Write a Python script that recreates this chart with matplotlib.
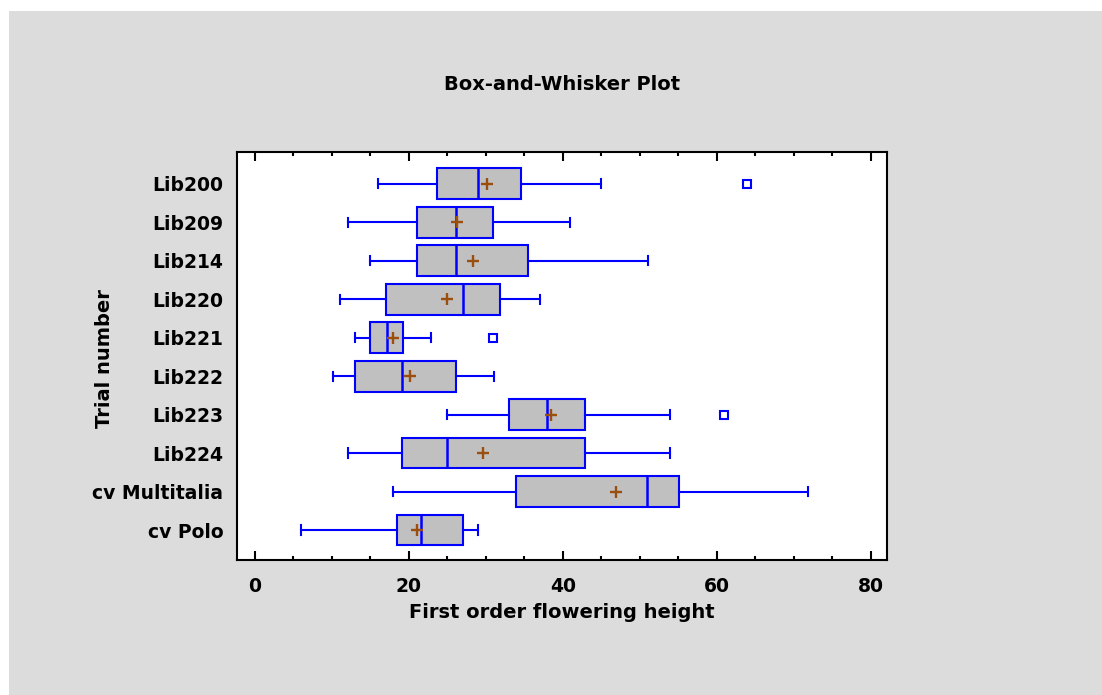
import matplotlib
matplotlib.use("Agg")
import matplotlib.pyplot as plt
from matplotlib.patches import Rectangle
from matplotlib.ticker import MultipleLocator

# values (first order flowering height)
trials = ["Lib200", "Lib209", "Lib214", "Lib220", "Lib221",
          "Lib222", "Lib223", "Lib224", "cv Multitalia", "cv Polo"]
whisker_lo = [16.0, 12.1, 15.0, 11.0, 13.0, 10.1, 24.9, 12.1, 17.9, 6.0]
q1 = [23.6, 21.1, 21.1, 17.0, 15.0, 13.0, 33.0, 19.1, 33.9, 18.4]
median = [29.0, 26.1, 26.1, 27.0, 17.1, 19.1, 37.9, 24.9, 51.0, 21.6]
mean = [30.1, 26.2, 28.3, 24.9, 17.9, 20.2, 38.5, 29.6, 46.9, 21.0]
q3 = [34.6, 31.0, 35.5, 31.9, 19.3, 26.1, 42.9, 42.9, 55.1, 27.0]
whisker_hi = [45.0, 40.9, 51.1, 37.1, 22.9, 31.1, 53.9, 53.9, 71.9, 29.0]
outliers = [[64.0], [], [], [], [31.0], [], [60.9], [], [], []]

BLUE = "#0000FF"
GREY_BG = "#DCDCDC"
FONT = "DejaVu Sans"

stats = []
for i, name in enumerate(trials):
    stats.append(dict(label=name, whislo=whisker_lo[i], q1=q1[i], med=median[i],
                      mean=mean[i], q3=q3[i], whishi=whisker_hi[i], fliers=outliers[i]))

fig = plt.figure(figsize=(11.02, 6.95), dpi=100, facecolor="white")
# grey panel, white strip on the top and left edge only
fig.patches.append(Rectangle((9 / 1102, 0), 1, 1 - 11 / 695, transform=fig.transFigure,
                             facecolor=GREY_BG, edgecolor="none", zorder=-10))
ax = fig.add_axes([0.2153, 0.1942, 0.5893, 0.5867])
ax.set_facecolor("white")

pos = list(range(len(trials)))
ax.bxp(stats, positions=pos, vert=False, widths=0.8, capwidths=0.24,
       patch_artist=True, showmeans=True,
       boxprops=dict(facecolor="#C0C0C0", edgecolor=BLUE, linewidth=1.5),
       medianprops=dict(color=BLUE, linewidth=1.8),
       whiskerprops=dict(color=BLUE, linewidth=1.5),
       capprops=dict(color=BLUE, linewidth=1.5),
       meanprops=dict(marker="+", markeredgecolor="#9B4F0F", markersize=8,
                      markeredgewidth=1.7),
       flierprops=dict(marker="s", markerfacecolor="none", markeredgecolor=BLUE,
                       markersize=6, markeredgewidth=1.5))

ax.set_xlim(-2.3, 82.1)
ax.set_ylim(9.78, -0.82)
ax.set_yticks(pos)
ax.set_yticklabels(trials)
ax.xaxis.set_major_locator(MultipleLocator(20))
ax.xaxis.set_minor_locator(MultipleLocator(5))
ax.tick_params(axis="x", which="both", direction="in", top=True, bottom=True,
               width=1.5, labelsize=13.5, pad=12)
ax.tick_params(axis="x", which="major", length=6.5)
ax.tick_params(axis="x", which="minor", length=3.2)
ax.tick_params(axis="y", length=0, labelsize=13.5, pad=10)
for lab in ax.get_xticklabels() + ax.get_yticklabels():
    lab.set_fontfamily(FONT)
    lab.set_fontweight("bold")
for sp in ax.spines.values():
    sp.set_linewidth(1.5)

ax.set_xlabel("First order flowering height", fontsize=14, fontweight="bold",
              fontfamily=FONT, labelpad=5)
ax.set_ylabel("Trial number", fontsize=14, fontweight="bold", fontfamily=FONT)
ax.yaxis.set_label_coords(-0.19, 0.495)
ax.text(0.5, 1.165, "Box-and-Whisker Plot", transform=ax.transAxes, ha="center",
        va="center", fontsize=14, fontweight="bold", fontfamily=FONT)

fig.savefig("out.png", dpi=100, facecolor=fig.get_facecolor())
